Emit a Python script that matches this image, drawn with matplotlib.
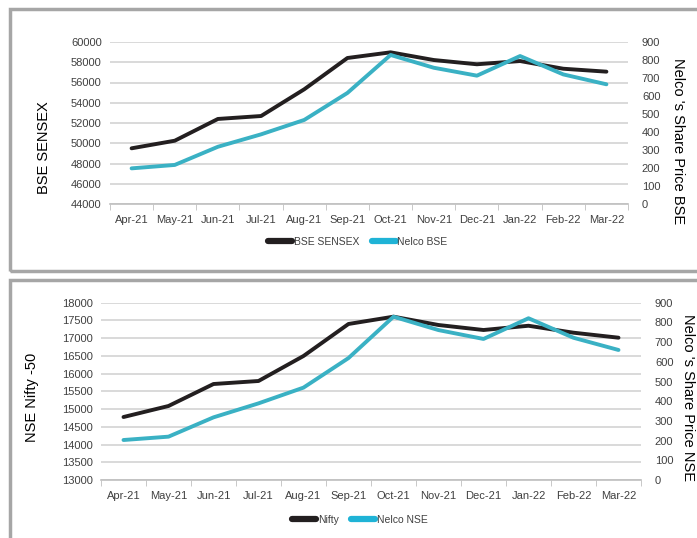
import matplotlib
matplotlib.use('Agg')
import matplotlib.pyplot as plt
from matplotlib.patches import Rectangle
from matplotlib.lines import Line2D

plt.rcParams['font.family'] = ['Liberation Sans', 'DejaVu Sans']

months = ['Apr-21', 'May-21', 'Jun-21', 'Jul-21', 'Aug-21', 'Sep-21',
          'Oct-21', 'Nov-21', 'Dec-21', 'Jan-22', 'Feb-22', 'Mar-22']

sensex = [49500, 50250, 52400, 52690, 55330, 58420,
          58980, 58220, 57800, 58120, 57360, 57070]
nelco_bse = [198, 217, 318, 387, 467, 617, 828, 757, 713, 822, 720, 665]

nifty = [14776, 15087, 15707, 15792, 16497, 17400,
         17606, 17371, 17230, 17350, 17154, 17013]
nelco_nse = [203, 220, 318, 389, 469, 619, 829, 761, 716, 821, 722, 660]

black = '#231f20'
cyan = '#3ab1c4'
grid_c = '#d9d9d9'
tick_c = '#404040'

W, H = 697, 538
fig = plt.figure(figsize=(W / 100, H / 100), dpi=100)

# panel borders
fig.patches.append(Rectangle((10 / W, 1 - 271 / H), 1.0, 262 / H,
                             transform=fig.transFigure, fill=False,
                             edgecolor='#a6a6a6', lw=2.5))
fig.patches.append(Rectangle((10 / W, -0.05), 1.0, 1 - 280 / H + 0.05,
                             transform=fig.transFigure, fill=False,
                             edgecolor='#a6a6a6', lw=2.5))


def panel(rect, left_vals, right_vals, left_lim, left_step, left_label,
          right_label, names, lpos, rpos, legend_pos):
    ax = fig.add_axes(rect)
    x = list(range(len(months)))
    ax.plot(x, left_vals, color=black, lw=2.8, solid_capstyle='round', zorder=3)
    ax.set_xlim(-0.5, len(months) - 0.5)
    ax.set_ylim(*left_lim)
    ax.set_yticks(range(left_lim[0], left_lim[1] + 1, left_step))
    ax.yaxis.grid(True, color=grid_c, lw=1.4)
    ax.set_axisbelow(True)
    ax.set_xticks(x)
    ax.set_xticklabels(months)
    ax.set_xticks([i + 0.5 for i in range(-1, len(months))], minor=True)
    ax.tick_params(axis='x', which='major', length=0, pad=8, labelsize=8, labelcolor=tick_c)
    ax.tick_params(axis='x', which='minor', length=4, color='#bfbfbf')
    ax.tick_params(axis='y', length=0, labelsize=8, labelcolor=tick_c, pad=6)
    for s in ['top', 'left', 'right']:
        ax.spines[s].set_visible(False)
    ax.spines['bottom'].set_color('#bfbfbf')
    ax.spines['bottom'].set_linewidth(1.2)

    ax2 = ax.twinx()
    ax2.plot(x, right_vals, color=cyan, lw=2.8, solid_capstyle='round', zorder=3)
    ax2.set_ylim(0, 900)
    ax2.set_yticks(range(0, 901, 100))
    ax2.tick_params(axis='y', length=0, labelsize=8, labelcolor=tick_c, pad=10)
    for s in ['top', 'left', 'right', 'bottom']:
        ax2.spines[s].set_visible(False)

    fig.text(lpos[0] / W, 1 - lpos[1] / H, left_label, rotation=90,
             ha='center', va='center', fontsize=10.5)
    fig.text(rpos[0] / W, 1 - rpos[1] / H, right_label, rotation=-90,
             ha='center', va='center', fontsize=10.5)

    handles = [Line2D([], [], color=black, lw=4.5, solid_capstyle='round'),
               Line2D([], [], color='#1fb3d6', lw=4.5, solid_capstyle='round')]
    fig.legend(handles, names, loc='center',
               bbox_to_anchor=(legend_pos[0] / W, 1 - legend_pos[1] / H),
               ncol=2, frameon=False, fontsize=7.5, handlelength=2.3,
               handletextpad=0.15, columnspacing=1.2, labelcolor=tick_c)


panel([110 / W, 1 - 204 / H, 518 / W, 162 / H], sensex, nelco_bse,
      (44000, 60000), 2000, 'BSE SENSEX', "Nelco 's Share Price BSE",
      ['BSE SENSEX', 'Nelco BSE'], (44, 148), (678, 141), (358, 242))

panel([101 / W, 1 - 480 / H, 540 / W, 177.3 / H], nifty, nelco_nse,
      (13000, 18000), 500, 'NSE Nifty -50', "Nelco 's Share Price NSE",
      ['Nifty', 'Nelco NSE'], (32, 397), (688, 397), (360, 520))

fig.savefig('out.png', dpi=100)
